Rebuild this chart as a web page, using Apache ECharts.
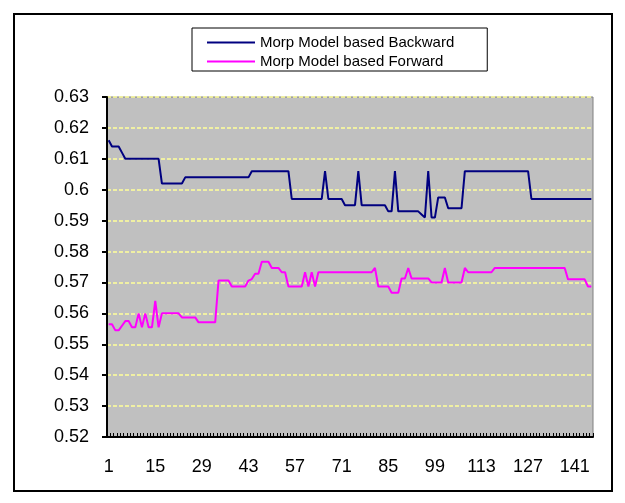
<!DOCTYPE html>
<html>
<head>
<meta charset="utf-8">
<script src="https://cdn.jsdelivr.net/npm/echarts@6/dist/echarts.min.js"></script>
<style>
html,body{margin:0;padding:0;background:#fff;}
#chart{width:625px;height:503px;}
</style>
</head>
<body>
<div id="chart"></div>
<script>
// category labels 1..146
const categories = Array.from({length: 146}, (_, i) => String(i + 1));
const seriesNames = ['Morp Model based Backward', 'Morp Model based Forward'];
const backward = [
  0.616, 0.614, 0.614, 0.614, 0.612,
  0.610, 0.610, 0.610, 0.610, 0.610, 0.610, 0.610, 0.610, 0.610, 0.610, 0.610,
  0.602, 0.602, 0.602, 0.602, 0.602, 0.602, 0.602,
  0.604, 0.604, 0.604, 0.604, 0.604, 0.604, 0.604, 0.604, 0.604, 0.604,
  0.604, 0.604, 0.604, 0.604, 0.604, 0.604, 0.604, 0.604, 0.604, 0.604,
  0.606, 0.606, 0.606, 0.606, 0.606, 0.606, 0.606, 0.606, 0.606, 0.606, 0.606, 0.606,
  0.597, 0.597, 0.597, 0.597, 0.597, 0.597, 0.597, 0.597, 0.597, 0.597,
  0.606,
  0.597, 0.597, 0.597, 0.597, 0.597,
  0.595, 0.595, 0.595, 0.595,
  0.606,
  0.595, 0.595, 0.595, 0.595, 0.595, 0.595, 0.595, 0.595,
  0.593, 0.593,
  0.606,
  0.593, 0.593, 0.593, 0.593, 0.593, 0.593, 0.593,
  0.592, 0.591,
  0.606,
  0.591, 0.591,
  0.5975, 0.5975, 0.5975,
  0.594, 0.594, 0.594, 0.594, 0.594,
  0.606, 0.606, 0.606, 0.606, 0.606, 0.606, 0.606, 0.606, 0.606, 0.606,
  0.606, 0.606, 0.606, 0.606, 0.606, 0.606, 0.606, 0.606, 0.606, 0.606,
  0.597, 0.597, 0.597, 0.597, 0.597, 0.597, 0.597, 0.597, 0.597, 0.597,
  0.597, 0.597, 0.597, 0.597, 0.597, 0.597, 0.597, 0.597, 0.597
];
const forward = [
  0.5565, 0.5565, 0.5545, 0.5545, 0.556, 0.5575, 0.5575, 0.5555, 0.5555, 0.560,
  0.5555, 0.560, 0.5555, 0.5555, 0.564, 0.5555,
  0.560, 0.560, 0.560, 0.560, 0.560, 0.560,
  0.5587, 0.5587, 0.5587, 0.5587, 0.5587,
  0.5571, 0.5571, 0.5571, 0.5571, 0.5571, 0.5571,
  0.5706, 0.5706, 0.5706, 0.5706,
  0.5687, 0.5687, 0.5687, 0.5687, 0.5687,
  0.5706, 0.5711, 0.5728, 0.5728,
  0.5767, 0.5767, 0.5767,
  0.5747, 0.5747, 0.5747,
  0.5733, 0.5733,
  0.5687, 0.5687, 0.5687, 0.5687, 0.5687,
  0.5733, 0.5687, 0.5733, 0.5687,
  0.5733, 0.5733, 0.5733, 0.5733, 0.5733, 0.5733, 0.5733, 0.5733, 0.5733,
  0.5733, 0.5733, 0.5733, 0.5733, 0.5733, 0.5733, 0.5733, 0.5733,
  0.5747,
  0.5687, 0.5687, 0.5687, 0.5687,
  0.5667, 0.5667, 0.5667,
  0.5713, 0.5713,
  0.5747,
  0.5713, 0.5713, 0.5713, 0.5713, 0.5713, 0.5713,
  0.570, 0.570, 0.570, 0.570,
  0.5747,
  0.570, 0.570, 0.570, 0.570, 0.570,
  0.5747,
  0.5733, 0.5733, 0.5733, 0.5733, 0.5733, 0.5733, 0.5733, 0.5733,
  0.5747, 0.5747, 0.5747, 0.5747, 0.5747, 0.5747, 0.5747, 0.5747, 0.5747, 0.5747, 0.5747,
  0.5747, 0.5747, 0.5747, 0.5747, 0.5747, 0.5747, 0.5747, 0.5747, 0.5747, 0.5747, 0.5747,
  0.571, 0.571, 0.571, 0.571, 0.571, 0.571,
  0.5687, 0.5687
];

const FONT = '"Liberation Sans", Arial, sans-serif';
const chart = echarts.init(document.getElementById('chart'), null, {renderer: 'canvas'});
chart.setOption({
  animation: false,
  backgroundColor: '#ffffff',
  graphic: [{
    type: 'rect', left: 13, top: 13, z: -10,
    shape: {width: 598, height: 477},
    style: {fill: '#ffffff', stroke: '#000000', lineWidth: 2}
  }],
  legend: {
    orient: 'vertical',
    left: 192, top: 28,
    backgroundColor: '#ffffff',
    borderColor: '#000000', borderWidth: 1,
    padding: [7, 33, 2, 15],
    itemGap: 4,
    itemWidth: 48, itemHeight: 2,
    icon: 'rect',
    textStyle: {fontFamily: FONT, fontSize: 15, color: '#000'},
    data: seriesNames
  },
  grid: {
    left: 107, right: 32, top: 97, bottom: 66,
    show: true, backgroundColor: '#C0C0C0', borderColor: '#808080', borderWidth: 1
  },
  xAxis: {
    type: 'category',
    data: categories,
    boundaryGap: true,
    axisLine: {lineStyle: {color: '#000', width: 2}},
    axisTick: {show: true, inside: true, length: 4, interval: 0, lineStyle: {color: '#000', width: 1}},
    axisLabel: {interval: 13, margin: 21, fontFamily: FONT, fontSize: 18, color: '#000'},
    splitLine: {show: false}
  },
  yAxis: {
    type: 'value',
    min: 0.52, max: 0.63, interval: 0.01,
    axisLine: {show: true, lineStyle: {color: '#000', width: 2}},
    axisTick: {show: true, length: 5, lineStyle: {color: '#000', width: 2}},
    axisLabel: {
      margin: 18, fontFamily: FONT, fontSize: 18, color: '#000',
      formatter: v => String(parseFloat(v.toFixed(2)))
    },
    splitLine: {show: true, lineStyle: {color: '#FFFF99', width: 1.5, type: [4, 2]}}
  },
  series: [
    {name: seriesNames[0], type: 'line', data: backward, symbol: 'none',
     color: '#000080', lineStyle: {color: '#000080', width: 2}},
    {name: seriesNames[1], type: 'line', data: forward, symbol: 'none',
     color: '#FF00FF', lineStyle: {color: '#FF00FF', width: 2}}
  ]
});
</script>
</body>
</html>
